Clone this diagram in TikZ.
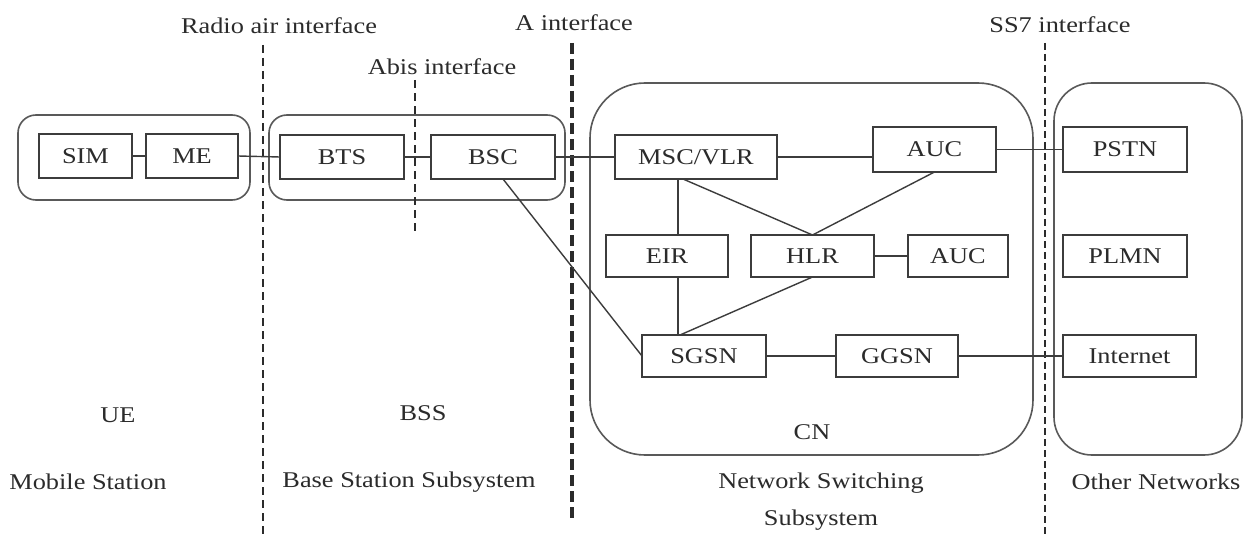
\documentclass[tikz,border=0pt]{standalone}
\usepackage{fontspec}
\setmainfont{Liberation Serif}[FakeStretch=1.17]
\usetikzlibrary{calc}
\definecolor{ink}{HTML}{2B2B2B}
\definecolor{edge}{HTML}{3C3C3C}
\tikzset{
  lbl/.style={font=\fontsize{22.5}{27}\selectfont, text=ink, inner sep=0pt},
  unit/.style={lbl, draw=edge, line width=1.5pt, rectangle, inner sep=0pt, outer sep=0pt},
  group/.style={draw=edge!85, line width=1.6pt},
  link/.style={draw=edge, line width=1.4pt},
  iface/.style={draw=ink, line width=2.6pt, dash pattern=on 8pt off 5pt},
  ifacebold/.style={draw=ink, line width=3.4pt, dash pattern=on 11pt off 5pt},
}
\begin{document}
\begin{tikzpicture}[x=1pt,y=-1pt]
\useasboundingbox[fill=white] (0,0) rectangle (1256,535);

% subsystem outlines
\draw[group, rounded corners=18pt] (18,115) rectangle (250,200);
\draw[group, rounded corners=18pt] (269,115) rectangle (565,200);
\draw[group, rounded corners=55pt] (590,83) rectangle (1033,455);
\draw[group, rounded corners=38pt] (1054,83) rectangle (1242,455);

% interface boundaries
\draw[iface] (263,45) -- (263,535);
\draw[iface] (415,80) -- (415,232);
\draw[ifacebold] (572,43) -- (572,518);
\draw[iface, dash pattern=on 7pt off 4pt] (1045,43) -- (1045,535);

% interface names
\node[lbl] (radio) at (279,26) {Radio air interface};
\node[lbl] (abis) at (442,67) {Abis interface};
\node[lbl] (aif) at (574,23) {A interface};
\node[lbl] (ss7) at (1060,25) {SS7 interface};

% network elements
\node[unit, minimum width=93pt, minimum height=44pt] (sim) at (85.5,156) {SIM};
\node[unit, minimum width=92pt, minimum height=44pt] (me) at (192,156) {ME};
\node[unit, minimum width=124pt, minimum height=44pt] (bts) at (342,157) {BTS};
\node[unit, minimum width=124pt, minimum height=44pt] (bsc) at (493,157) {BSC};
\node[unit, minimum width=162pt, minimum height=44pt] (msc) at (696,157) {MSC/VLR};
\node[unit, minimum width=123pt, minimum height=45pt] (auc) at (934.5,149.5) {AUC};
\node[unit, minimum width=124pt, minimum height=45pt] (pstn) at (1125,149.5) {PSTN};
\node[unit, minimum width=122pt, minimum height=42pt] (eir) at (667,256) {EIR};
\node[unit, minimum width=123pt, minimum height=42pt] (hlr) at (812.5,256) {HLR};
\node[unit, minimum width=100pt, minimum height=42pt] (auc2) at (958,256) {AUC};
\node[unit, minimum width=124pt, minimum height=42pt] (plmn) at (1125,256) {PLMN};
\node[unit, minimum width=124pt, minimum height=42pt] (sgsn) at (704,356) {SGSN};
\node[unit, minimum width=122pt, minimum height=42pt] (ggsn) at (897,356) {GGSN};
\node[unit, minimum width=133pt, minimum height=42pt] (inet) at (1129.5,356) {Internet};

% links
\draw[link] (sim.east) -- (me.west);
\draw[link] (me.east) -- (bts.west);
\draw[link] (bts.east) -- (bsc.west);
\draw[link] (bsc.east) -- (msc.west);
\draw[link] (msc.east) -- (msc.east -| auc.west);
\draw[link] (auc.east) -- (pstn.west);
\draw[link] ([xshift=11pt]eir.north) -- ([xshift=11pt]eir.north |- msc.south);
\draw[link] ([xshift=-13pt]msc.south) -- (hlr.north);
\draw[link] (auc.south) -- (hlr.north);
\draw[link] (hlr.east) -- (auc2.west);
\draw[link] ([xshift=11pt]eir.south) -- ([xshift=11pt]eir.south |- sgsn.north);
\draw[link] (hlr.south) -- ([xshift=-24pt]sgsn.north);
\draw[link] ([xshift=10pt]bsc.south) -- (sgsn.west);
\draw[link] (sgsn.east) -- (ggsn.west);
\draw[link] (ggsn.east) -- (inet.west);

% subsystem names
\node[lbl] (ue) at (118,415) {UE};
\node[lbl] (bss) at (423,413) {BSS};
\node[lbl] (cn) at (812,432) {CN};
\node[lbl] (ms) at (88,482) {Mobile Station};
\node[lbl] (bssname) at (409,482) {Base Station Subsystem};
\node[lbl, align=center, font=\fontsize{22.5}{37}\selectfont] (nss) at (821,502) {Network Switching\\Subsystem};
\node[lbl] (other) at (1156,482) {Other Networks};
\end{tikzpicture}
\end{document}
